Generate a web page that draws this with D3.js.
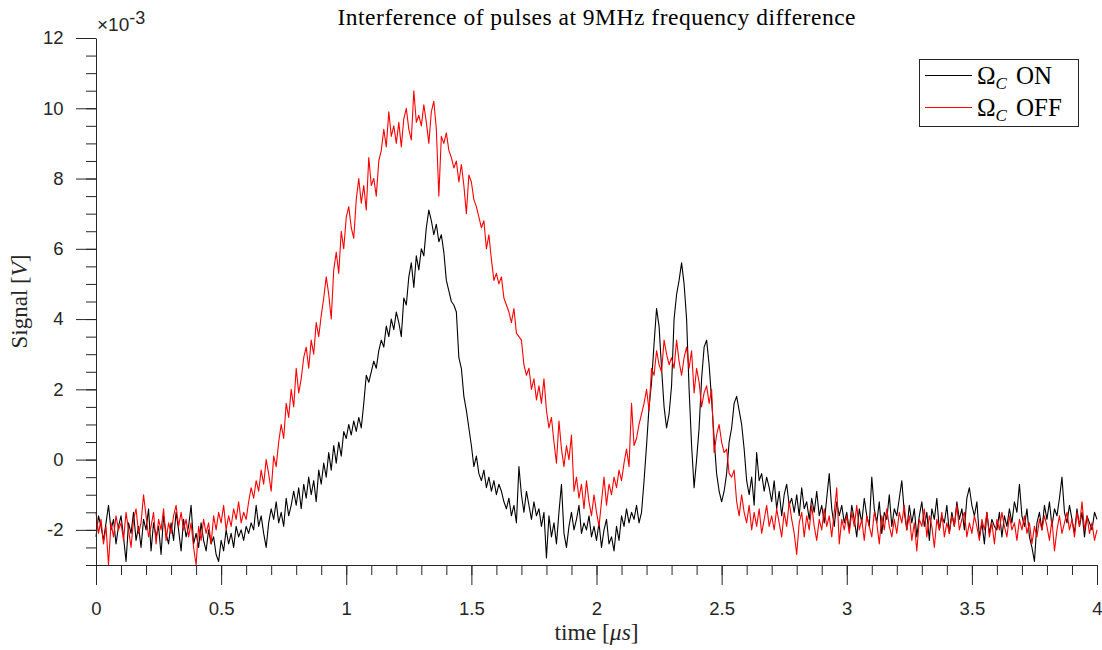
<!DOCTYPE html>
<html>
<head>
<meta charset="utf-8">
<script src="https://cdn.jsdelivr.net/npm/d3@7"></script>
<style>
  body { margin: 0; background: #fff; }
  svg { display: block; }
</style>
</head>
<body>
<svg id="chart" width="1102" height="650"></svg>
<script>
// Sampling of both traces (µs)
const timeStart = 0;
const timeStep = 0.01;

// Detector signal with the control field on (units of 1e-3 V)
const signalOn = [
  -2.2,-1.6,-1.9,-2.3,-1.8,-1.3,-2.0,-1.7,-2.4,-1.9,
  -1.6,-2.2,-2.9,-1.8,-2.1,-1.5,-2.3,-1.9,-2.5,-1.7,
  -2.0,-1.4,-2.6,-1.8,-2.2,-1.9,-2.7,-1.6,-2.1,-2.4,
  -1.8,-2.3,-1.5,-2.0,-2.6,-1.7,-2.2,-1.9,-1.3,-2.4,
  -2.1,-2.5,-1.8,-2.3,-2.6,-2.0,-2.4,-2.2,-2.7,-2.9,
  -2.3,-2.6,-2.0,-2.4,-2.1,-2.5,-1.9,-2.2,-2.0,-2.3,
  -1.9,-2.1,-1.8,-2.0,-1.3,-1.9,-1.6,-2.1,-2.5,-1.8,
  -1.4,-1.7,-1.2,-1.8,-1.5,-1.9,-1.1,-1.6,-1.3,-0.9,
  -1.3,-0.8,-1.4,-0.7,-1.1,-0.5,-1.0,-0.6,-1.2,-0.3,
  -0.7,-0.1,-0.5,0.2,-0.3,0.4,-0.1,0.5,0.1,0.8,
  0.6,1.0,0.7,1.1,0.8,1.2,0.9,1.6,2.4,2.2,
  2.5,2.8,2.6,3.1,3.4,3.2,3.8,3.5,4.0,3.7,
  4.2,3.9,3.5,4.6,4.4,5.2,5.6,4.9,5.8,5.4,
  6.0,5.8,6.6,7.1,6.8,6.4,6.7,6.2,6.4,5.9,
  5.1,4.8,4.5,4.4,4.2,2.9,2.6,1.8,1.4,0.9,
  0.4,-0.2,0.1,-0.4,-0.6,-0.3,-0.8,-0.5,-0.9,-0.6,
  -1.0,-0.7,-0.9,-1.2,-1.4,-1.1,-1.6,-1.3,-1.8,-0.2,
  -1.0,-1.5,-0.9,-1.3,-1.7,-1.2,-1.6,-1.4,-1.9,-1.5,
  -2.8,-1.6,-2.2,-1.8,-2.4,-1.5,-0.7,-2.1,-2.5,-1.9,
  -1.5,-2.0,-1.7,-1.3,-2.1,-1.8,-2.0,-1.6,-2.2,-1.9,
  -2.3,-1.8,-2.5,-2.0,-1.7,-2.4,-2.2,-2.6,-1.9,-2.3,
  -1.6,-1.9,-1.4,-1.8,-1.5,-1.7,-1.3,-1.8,-1.5,-0.6,
  0.4,1.5,2.2,3.3,4.3,3.8,2.6,1.5,0.9,1.3,
  2.1,4.0,4.7,5.1,5.6,5.0,4.0,2.0,0.4,-0.8,
  0.0,0.9,2.3,3.2,3.4,2.7,1.7,0.6,-0.4,-0.9,
  -1.2,-0.9,-0.4,0.5,0.9,1.6,1.8,1.4,1.0,0.3,
  -0.6,-1.0,-0.5,-1.3,0.2,-0.6,-0.4,-0.9,-0.5,-0.8,
  -1.2,-0.6,-1.4,-0.9,-1.6,-1.0,-0.7,-1.3,-1.1,-1.5,
  -1.0,-1.6,-0.8,-1.4,-1.2,-1.7,-1.1,-1.5,-0.9,-1.6,
  -1.3,-1.8,-1.1,-0.4,-1.4,-1.9,-1.2,-1.6,-1.3,-1.8,
  -1.5,-2.0,-1.3,-1.7,-2.2,-1.4,-1.8,-1.1,-1.6,-1.9,
  -0.5,-1.4,-1.8,-1.2,-2.1,-1.5,-1.7,-1.0,-1.9,-1.4,
  -1.6,-1.1,-0.6,-1.5,-2.0,-1.3,-1.8,-1.4,-2.2,-1.6,
  -1.2,-1.9,-1.5,-2.3,-1.4,-1.7,-1.1,-2.0,-1.6,-1.8,
  -1.3,-2.1,-1.5,-1.9,-1.2,-1.7,-1.4,-2.0,-1.1,-0.8,
  -1.3,-1.6,-1.2,-2.2,-1.8,-2.4,-1.5,-2.1,-1.7,-1.9,
  -2.0,-1.5,-2.2,-1.6,-1.9,-1.4,-1.8,-1.2,-1.5,-0.7,
  -1.6,-1.9,-1.4,-2.2,-2.5,-2.9,-1.8,-1.5,-2.0,-1.3,
  -1.7,-1.2,-1.9,-1.4,-1.6,-1.1,-0.5,-1.5,-1.8,-1.3,
  -1.7,-2.1,-1.4,-1.9,-1.5,-2.2,-1.6,-1.8,-2.0,-1.5,
  -1.7
];

// Detector signal with the control field off (units of 1e-3 V)
const signalOff = [
  -1.5,-2.1,-1.7,-2.4,-1.9,-3.0,-1.8,-2.2,-1.6,-2.0,
  -1.8,-2.3,-1.5,-2.0,-2.5,-1.7,-1.4,-2.1,-1.8,-1.0,
  -1.6,-2.2,-1.9,-1.5,-2.4,-1.7,-2.0,-1.4,-2.3,-1.8,
  -2.1,-1.6,-1.3,-1.9,-1.5,-2.0,-1.7,-2.2,-1.8,-2.5,
  -3.0,-1.9,-2.3,-1.7,-2.1,-1.8,-2.4,-1.6,-2.0,-1.5,
  -1.8,-1.3,-2.0,-1.6,-1.9,-1.4,-1.7,-1.2,-1.8,-1.5,
  -1.7,-1.2,-0.8,-1.1,-0.6,-0.9,-0.3,-0.7,0.0,-0.4,
  -0.9,0.1,-0.2,0.5,1.0,0.6,1.6,1.2,2.0,1.5,
  2.6,1.9,2.3,2.9,3.2,2.6,3.4,3.0,3.9,3.5,
  4.1,4.6,5.2,4.7,4.0,5.4,5.9,5.3,6.5,6.0,
  6.9,7.2,6.6,6.3,7.4,8.0,7.3,7.8,7.1,8.6,
  7.8,8.0,7.5,8.5,8.8,9.4,8.9,9.9,9.2,9.5,
  9.0,9.6,8.9,9.7,10.0,9.4,9.1,10.5,9.6,9.8,
  9.5,10.1,9.6,9.0,9.9,10.2,9.4,7.5,9.2,9.0,
  9.3,8.8,8.6,8.3,8.5,7.9,8.4,7.8,7.0,8.1,
  7.9,7.4,7.2,6.9,6.6,6.8,6.0,6.4,5.7,5.1,
  5.3,5.0,5.2,4.6,4.4,4.2,3.9,4.3,3.6,3.5,
  3.4,2.7,2.4,2.6,2.0,2.3,1.7,2.1,1.6,2.3,
  1.4,0.9,1.2,0.5,-0.1,1.1,0.3,-0.2,0.4,0.0,
  0.7,-0.9,-0.5,-1.1,-0.7,-1.4,-0.6,-1.2,-1.6,-1.0,
  -1.5,-1.9,-1.2,-0.5,-1.3,-0.7,-1.0,-0.5,-0.8,-0.3,
  -0.6,-0.1,0.3,-0.2,1.6,0.4,0.6,1.0,1.3,1.6,
  2.0,1.4,2.6,2.4,3.1,2.7,2.5,3.4,3.0,2.7,
  2.9,2.6,3.4,2.8,2.4,2.9,3.2,2.6,3.1,1.9,
  2.6,2.2,1.5,1.9,2.1,1.6,2.0,0.2,0.7,1.0,
  0.5,0.2,0.3,-0.4,-0.5,-0.3,-1.2,-1.6,-1.0,-1.5,
  -1.8,-1.3,-2.0,-1.5,-1.9,-1.4,-2.1,-1.7,-1.3,-1.9,
  -1.6,-2.0,-1.4,-1.8,-2.2,-1.5,-1.9,-1.2,-1.7,-2.1,
  -2.7,-1.8,-1.5,-2.2,-1.6,-2.0,-1.3,-1.9,-2.3,-1.7,
  -2.0,-1.4,-1.9,-1.6,-2.2,-1.5,-0.8,-2.4,-1.7,-2.0,
  -1.6,-2.1,-1.5,-1.9,-1.3,-2.0,-1.7,-2.3,-1.6,-1.9,
  -2.2,-1.5,-1.8,-2.4,-1.6,-2.0,-1.4,-1.9,-2.2,-1.7,
  -2.1,-1.5,-1.8,-1.3,-2.0,-1.6,-2.3,-1.8,-2.6,-1.7,
  -1.9,-1.4,-2.2,-1.6,-1.9,-2.5,-1.7,-2.0,-1.5,-2.2,
  -1.8,-2.1,-1.6,-1.9,-1.3,-2.0,-1.7,-1.5,-2.2,-1.8,
  -2.1,-1.6,-1.9,-2.3,-1.7,-2.0,-1.5,-2.2,-1.8,-2.4,
  -1.7,-2.0,-1.5,-1.9,-2.2,-1.6,-2.0,-1.8,-2.3,-1.7,
  -2.0,-1.6,-2.1,-1.8,-2.4,-1.9,-2.2,-1.7,-2.0,-1.6,
  -1.9,-2.3,-1.7,-2.6,-2.0,-1.6,-2.1,-1.8,-1.5,-2.0,
  -1.7,-2.2,-1.5,-1.9,-1.2,-2.0,-1.6,-2.1,-1.8,-2.3,
  -2.0
];

// Axis ticks and labels
const xTicks = [0, 0.5, 1, 1.5, 2, 2.5, 3, 3.5, 4];
const xTickLabels = ["0", "0.5", "1", "1.5", "2", "2.5", "3", "3.5", "4"];
const yTicks = [-2, 0, 2, 4, 6, 8, 10, 12];
const yTickLabels = ["-2", "0", "2", "4", "6", "8", "10", "12"];
const xDomain = [0, 4];
const yDomain = [-3, 12];

const seriesLabels = ["ON", "OFF"];
const seriesColors = ["#000000", "#ff0000"];
const chartTitle = "Interference of pulses at 9MHz frequency difference";

// ---- layout ----
const plot = { left: 96, right: 1097, top: 38, bottom: 565 };
const axisColor = "#262626";
const sansFont = "'Liberation Sans', Arial, Helvetica, sans-serif";
const serifFont = "'Liberation Serif', 'Times New Roman', serif";

const svg = d3.select("#chart");

const x = d3.scaleLinear().domain(xDomain).range([plot.left, plot.right]);
const y = d3.scaleLinear().domain(yDomain).range([plot.bottom, plot.top]);

// ---- traces (OFF drawn over ON) ----
const line = d3.line()
  .x((d, i) => x(timeStart + i * timeStep))
  .y(d => y(d));

const traces = [signalOn, signalOff];
svg.append("g")
  .selectAll("path")
  .data(traces)
  .join("path")
  .attr("d", d => line(d))
  .attr("fill", "none")
  .attr("stroke", (d, i) => seriesColors[i])
  .attr("stroke-width", 1.1)
  .attr("stroke-linejoin", "round");

// ---- axes ----
const xMinor = d3.range(0, 40.5, 1).map(v => v / 10);
const yMinor = d3.range(-6, 24.5, 1).map(v => v / 2);

function styleAxis(g) {
  g.selectAll("path.domain").attr("stroke", axisColor);
  g.selectAll(".tick line").attr("stroke", axisColor);
  g.selectAll(".tick text")
    .attr("fill", axisColor)
    .style("font-family", sansFont)
    .style("font-size", "18.5px");
}

// minor ticks
svg.append("g")
  .attr("transform", `translate(0,${plot.bottom})`)
  .call(d3.axisBottom(x).tickValues(xMinor).tickSize(10).tickSizeOuter(0).tickFormat(""))
  .call(g => g.select("path.domain").remove())
  .call(styleAxis);

svg.append("g")
  .attr("transform", `translate(${plot.left},0)`)
  .call(d3.axisLeft(y).tickValues(yMinor).tickSize(10).tickSizeOuter(0).tickFormat(""))
  .call(g => g.select("path.domain").remove())
  .call(styleAxis);

// major ticks with labels
svg.append("g")
  .attr("transform", `translate(0,${plot.bottom})`)
  .call(d3.axisBottom(x).tickValues(xTicks).tickSize(20).tickSizeOuter(0).tickPadding(17)
    .tickFormat((d, i) => xTickLabels[i]))
  .call(g => g.attr("font-family", null).attr("font-size", null))
  .call(styleAxis);

svg.append("g")
  .attr("transform", `translate(${plot.left},0)`)
  .call(d3.axisLeft(y).tickValues(yTicks).tickSize(20).tickSizeOuter(0).tickPadding(12.5)
    .tickFormat((d, i) => yTickLabels[i]))
  .call(g => g.attr("font-family", null).attr("font-size", null))
  .call(styleAxis);

// exponent marker
const expo = svg.append("text")
  .attr("x", 97)
  .attr("y", 31)
  .attr("fill", axisColor)
  .style("font-family", sansFont)
  .style("font-size", "19px");
expo.append("tspan").text("\u00d710");
expo.append("tspan").attr("dy", -7).style("font-size", "18px").text("-3");

// ---- title and axis labels ----
svg.append("text")
  .attr("x", (plot.left + plot.right) / 2)
  .attr("y", 25)
  .attr("text-anchor", "middle")
  .attr("fill", "#000")
  .attr("textLength", 518)
  .attr("lengthAdjust", "spacing")
  .style("font-family", serifFont)
  .style("font-size", "23.5px")
  .text(chartTitle);

const xl = svg.append("text")
  .attr("x", (plot.left + plot.right) / 2)
  .attr("y", 640)
  .attr("text-anchor", "middle")
  .attr("fill", axisColor)
  .style("font-family", serifFont)
  .style("font-size", "23.5px");
xl.append("tspan").text("time [");
xl.append("tspan").style("font-style", "italic").text("\u03bcs");
xl.append("tspan").text("]");

const yl = svg.append("text")
  .attr("transform", `translate(27,${(plot.top + plot.bottom) / 2}) rotate(-90)`)
  .attr("text-anchor", "middle")
  .attr("fill", axisColor)
  .style("font-family", serifFont)
  .style("font-size", "23px");
yl.append("tspan").text("Signal [");
yl.append("tspan").style("font-style", "italic").text("V");
yl.append("tspan").text("]");

// ---- legend ----
const legend = svg.append("g");
legend.append("rect")
  .attr("x", 919.5).attr("y", 59.5)
  .attr("width", 159).attr("height", 67)
  .attr("fill", "#fff")
  .attr("stroke", axisColor)
  .attr("stroke-width", 1);

seriesLabels.forEach((lab, i) => {
  const cy = 75.5 + i * 32;
  legend.append("line")
    .attr("x1", 925).attr("x2", 972)
    .attr("y1", cy).attr("y2", cy)
    .attr("stroke", seriesColors[i])
    .attr("stroke-width", 1.1);
  const t = legend.append("text")
    .attr("x", 977)
    .attr("y", cy + 8)
    .attr("fill", "#000")
    .style("font-family", serifFont)
    .style("font-size", "25px");
  t.append("tspan").text("\u03a9");
  t.append("tspan").attr("dy", 5).style("font-style", "italic").style("font-size", "17px").text("C");
  t.append("tspan").attr("dy", -5).attr("dx", 9).text(lab);
});
</script>
</body>
</html>
